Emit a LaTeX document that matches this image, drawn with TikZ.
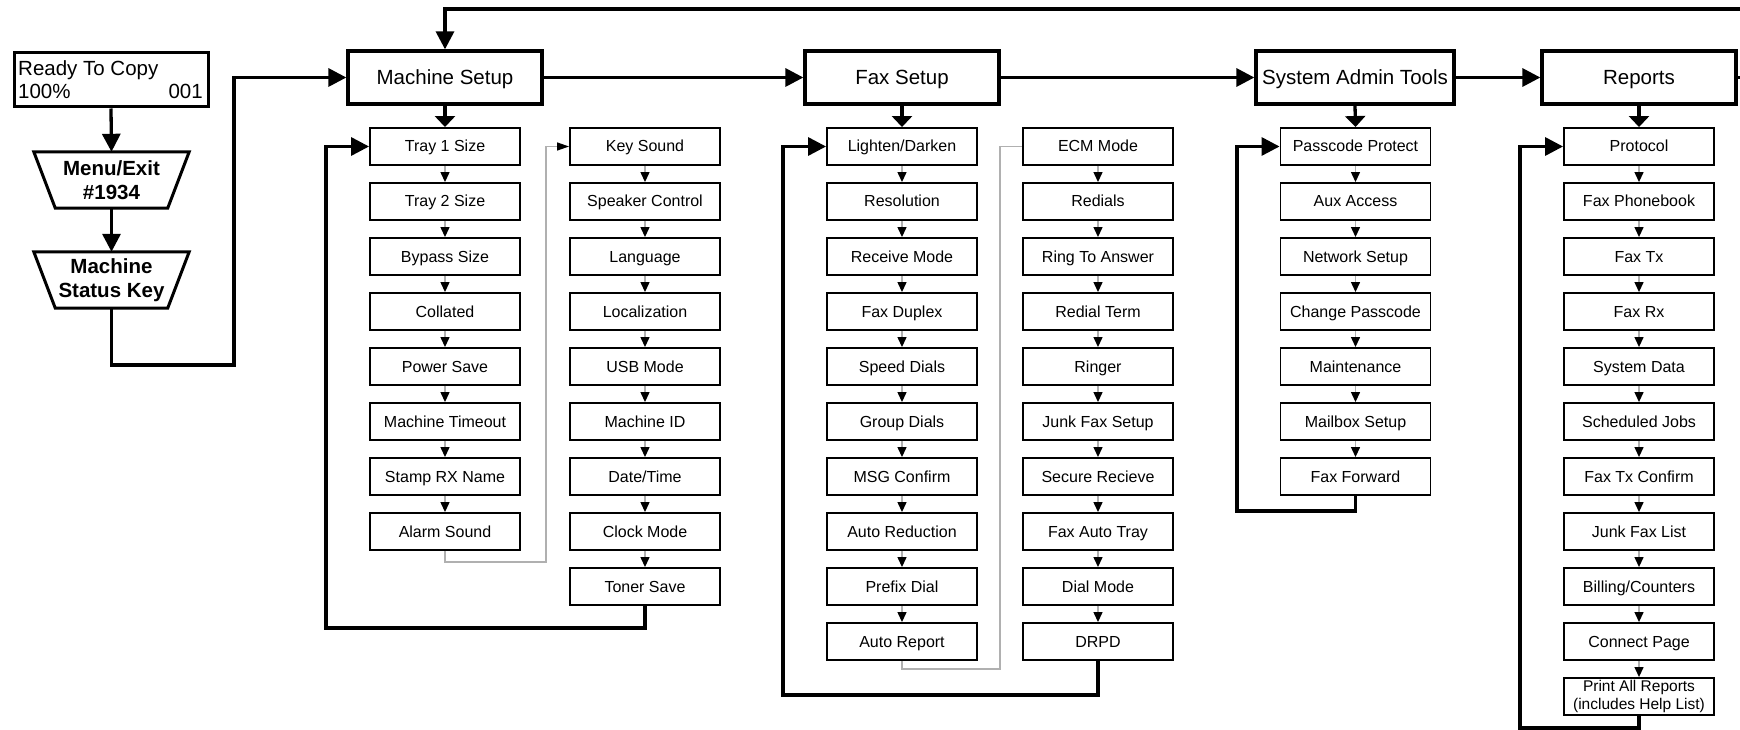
\documentclass[tikz,border=0pt]{standalone}
\usepackage{fontspec}
\setmainfont{Liberation Sans}
\usetikzlibrary{arrows.meta,calc}
\definecolor{linegray}{HTML}{B0B0B0}
\tikzset{
 topbox/.style={draw, line width=3.3pt, minimum width=194pt, minimum height=53pt, inner sep=0pt, text height=17pt, text depth=2.5pt, font=\fontsize{20.5}{24}\selectfont},
 toptext/.style={inner sep=0pt, font=\fontsize{20.5}{23}\selectfont},
 trap/.style={minimum width=155pt, minimum height=56pt, inner sep=0pt, align=center, font=\fontsize{20.5}{24}\selectfont\bfseries},
 trapline/.style={line width=3pt, line join=miter},
 subbox/.style={draw, line width=1.9pt, minimum width=150pt, minimum height=37pt, inner sep=0pt, text height=13pt, text depth=2pt, font=\fontsize{16}{18}\selectfont, align=center},
 bigarrow/.style={line width=3.3pt, -{Triangle[length=18pt,width=18pt]}},
 medarrow/.style={line width=3.3pt, -{Triangle[length=11pt,width=20pt]}},
 smallarrow/.style={draw=linegray, line width=1.3pt, -{Triangle[length=10pt,width=9pt,color=black,fill=black]}},
 grayline/.style={draw=linegray, line width=1.3pt},
 thickline/.style={line width=3.3pt},
}
\begin{document}
\begin{tikzpicture}[x=1pt,y=-1pt]
\fill[white] (0,0) rectangle (1740,730);
\useasboundingbox (0,0) rectangle (1740,730);

% start screen
\node[draw, line width=3pt, minimum width=194pt, minimum height=54pt, inner sep=0pt] (ready) at (111,80) {};
\node[toptext, anchor=base west] (rdyA) at (18,76) {Ready To Copy};
\node[toptext, anchor=base west] (rdyB) at (18,99) {100\%};
\node[toptext, anchor=base east] (rdyC) at (203,99) {001};

\node[trap] (menu) at (111.5,180) {Menu/Exit\\\#1934};
\draw[trapline] (menu.north west) -- (menu.north east) -- ([xshift=-21.5pt]menu.south east) -- ([xshift=21.5pt]menu.south west) -- cycle;
\node[trap] (msk) at (111.5,280) {Machine\\Status Key};
\draw[trapline] (msk.north west) -- (msk.north east) -- ([xshift=-21.5pt]msk.south east) -- ([xshift=21.5pt]msk.south west) -- cycle;

\draw[bigarrow] (ready.south) -- (menu.north);
\draw[bigarrow] (menu.south) -- (msk.north);

% top level
\node[topbox] (ms) at (445,77.5) {Machine Setup};
\node[topbox] (fax) at (902,77.5) {Fax Setup};
\node[topbox, minimum width=198pt] (sat) at (1355,77.5) {System Admin Tools};
\node[topbox] (rep) at (1639,77.5) {Reports};

\coordinate (c1) at (234,365);
\draw[bigarrow] (msk.south) |- (c1) |- (ms.west);
\draw[bigarrow] (ms.east) -- (fax.west);
\draw[bigarrow] (fax.east) -- (sat.west);
\draw[bigarrow] (sat.east) -- (rep.west);
\coordinate (repR) at (1740,77.5);
\draw[thickline] (rep.east) -- (repR);
\coordinate (topR) at (1740,9);
\draw[bigarrow] (topR) -| (ms.north);

% Machine Setup columns
\foreach \t [count=\i] in {Tray 1 Size, Tray 2 Size, Bypass Size, Collated, Power Save, Machine Timeout, Stamp RX Name, Alarm Sound}
  \node[subbox] (ms\i) at (445,{146.5+55*(\i-1)}) {\t};
\foreach \t [count=\i] in {Key Sound, Speaker Control, Language, Localization, USB Mode, Machine ID, Date/Time, Clock Mode, Toner Save}
  \node[subbox] (mk\i) at (645,{146.5+55*(\i-1)}) {\t};

% Fax Setup columns
\foreach \t [count=\i] in {Lighten/Darken, Resolution, Receive Mode, Fax Duplex, Speed Dials, Group Dials, MSG Confirm, Auto Reduction, Prefix Dial, Auto Report}
  \node[subbox] (fx\i) at (902,{146.5+55*(\i-1)}) {\t};
\foreach \t [count=\i] in {ECM Mode, Redials, Ring To Answer, Redial Term, Ringer, Junk Fax Setup, Secure Recieve, Fax Auto Tray, Dial Mode, DRPD}
  \node[subbox] (fy\i) at (1098,{146.5+55*(\i-1)}) {\t};

% System Admin Tools column
\foreach \t [count=\i] in {Passcode Protect, Aux Access, Network Setup, Change Passcode, Maintenance, Mailbox Setup, Fax Forward}
  \node[subbox] (sa\i) at (1355.5,{146.5+55*(\i-1)}) {\t};

% Reports column
\foreach \t [count=\i] in {Protocol, Fax Phonebook, Fax Tx, Fax Rx, System Data, Scheduled Jobs, Fax Tx Confirm, Junk Fax List, Billing/Counters, Connect Page}
  \node[subbox] (rp\i) at (1639,{146.5+55*(\i-1)}) {\t};
\node[subbox, text height=, text depth=, font=\fontsize{15.5}{17.5}\selectfont] (rp11) at (1639,696.5) {Print All Reports\\(includes Help List)};

% in-column arrows
\foreach \i in {1,...,7}{\pgfmathtruncatemacro\j{\i+1}\draw[smallarrow] (ms\i.south) -- (ms\j.north);}
\foreach \i in {1,...,8}{\pgfmathtruncatemacro\j{\i+1}\draw[smallarrow] (mk\i.south) -- (mk\j.north);}
\foreach \i in {1,...,9}{\pgfmathtruncatemacro\j{\i+1}\draw[smallarrow] (fx\i.south) -- (fx\j.north);}
\foreach \i in {1,...,9}{\pgfmathtruncatemacro\j{\i+1}\draw[smallarrow] (fy\i.south) -- (fy\j.north);}
\foreach \i in {1,...,6}{\pgfmathtruncatemacro\j{\i+1}\draw[smallarrow] (sa\i.south) -- (sa\j.north);}
\foreach \i in {1,...,10}{\pgfmathtruncatemacro\j{\i+1}\draw[smallarrow] (rp\i.south) -- (rp\j.north);}

% head to first item
\draw[medarrow] (ms.south) -- (ms1.north);
\draw[medarrow] (fax.south) -- (fx1.north);
\draw[medarrow] (sat.south) -- (sa1.north);
\draw[medarrow] (rep.south) -- (rp1.north);

% gray links between columns
\coordinate (mg) at (546,562);
\draw[grayline, -{Triangle[length=12pt,width=8pt,color=black,fill=black]}] (ms8.south) |- (mg) |- (mk1.west);
\coordinate (fg) at (1000,669);
\draw[grayline] (fx10.south) |- (fg) |- (fy1.west);

% loops back
\coordinate (msL) at (326,628);
\draw[bigarrow] (mk9.south) |- (msL) |- (ms1.west);
\coordinate (fxL) at (783,695);
\draw[bigarrow] (fy10.south) |- (fxL) |- (fx1.west);
\coordinate (saL) at (1237,511);
\draw[bigarrow] (sa7.south) |- (saL) |- (sa1.west);
\coordinate (rpL) at (1520,728);
\draw[bigarrow] (rp11.south) |- (rpL) |- (rp1.west);
\end{tikzpicture}
\end{document}
